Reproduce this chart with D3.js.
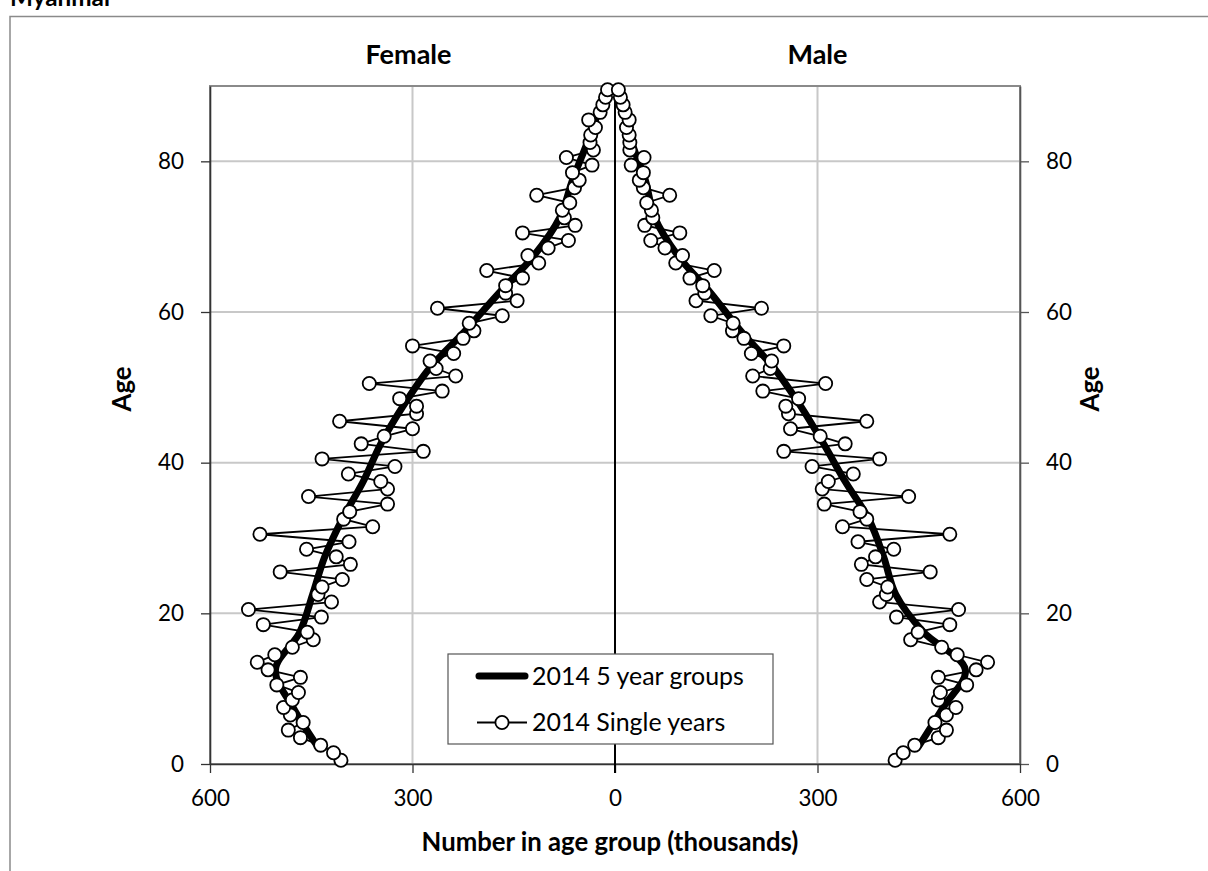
<!DOCTYPE html>
<html><head><meta charset="utf-8">
<script src="https://cdn.jsdelivr.net/npm/d3@7"></script>
<style>
body{margin:0;background:#fff;}
svg{display:block;}
text{font-family:Lato,"Open Sans",sans-serif;fill:#000;}
</style>
</head><body>
<svg id="c" width="1208" height="871"></svg>
<script>
// ---- data ----
const ages = [0,1,2,3,4,5,6,7,8,9,10,11,12,13,14,15,16,17,18,19,20,21,22,23,24,25,26,27,28,29,30,31,32,33,34,35,36,37,38,39,40,41,42,43,44,45,46,47,48,49,50,51,52,53,54,55,56,57,58,59,60,61,62,63,64,65,66,67,68,69,70,71,72,73,74,75,76,77,78,79,80,81,82,83,84,85,86,87,88,89];
const femaleSingle = [406,417,436,466,484,462,481,491,478,469,501,466,514,530,504,478,447,456,521,435,543,420,440,434,404,496,392,413,457,394,526,359,402,393,337,454,337,347,395,326,434,284,376,342,300,408,294,294,319,256,364,236,265,274,239,300,225,209,216,167,263,145,162,162,137,190,113,129,99,69,137,59,75,78,67,116,60,53,63,34,72,32,37,36,29,39,22,18,14,11];
const maleSingle = [415,427,444,479,491,474,491,505,479,482,521,479,535,552,507,484,438,449,496,417,509,392,402,404,373,467,365,386,413,360,496,337,373,363,310,435,307,316,353,292,392,250,341,304,260,373,257,253,272,219,312,204,230,232,202,250,191,174,175,142,217,120,133,130,111,147,90,100,74,53,96,44,56,54,47,81,42,36,42,24,43,22,22,21,17,21,15,12,8,5];
const groupStarts = [0,5,10,15,20,25,30,35,40,45,50,55,60,65,70,75,80,85];
const femaleGroups = [442,477,503,467,448,430,404,373,347,314,275,222,172,120,82,63,41,21];
const maleGroups = [451,486,519,457,416,398,376,341,309,275,236,186,142,93,59,45,25,13];
const xTicksLeft = [600,300,0];
const xTicksRight = [300,600];
const yTicks = [0,20,40,60,80];
const seriesNames = ["2014 5 year groups","2014 Single years"];
const panelTitles = ["Female","Male"];
const chartTitle = "Myanmar";
const xTitle = "Number in age group (thousands)";
const yTitle = "Age";

// ---- layout ----
const svg = d3.select("#c");
const L = 210, R = 1020, T = 86, B = 764, M = 615;
const xF = d3.scaleLinear().domain([0,600]).range([M, L]);
const xM = d3.scaleLinear().domain([0,600]).range([M, R]);
const y = d3.scaleLinear().domain([0,90]).range([B, T]);

function fitFont(sel, target){
  const w = sel.node().getComputedTextLength();
  const fs = parseFloat(sel.attr("font-size"));
  const nf = fs*target/w;
  sel.attr("font-size", nf);
  return nf;
}

// outer chart frame
svg.append("rect").attr("x",10).attr("y",16.5).attr("width",1400).attr("height",1000)
  .attr("fill","none").attr("stroke","#8a8a8a").attr("stroke-width",1.5);

// chart title (cut off at top, as in the source)
const ct = svg.append("text").attr("x",10).attr("y",6).attr("font-weight","bold").attr("font-size",26).text(chartTitle);
fitFont(ct,103);

// gridlines
const g = svg.append("g");
g.selectAll("line.gv").data([xF(300), xM(300)]).join("line")
  .attr("x1",d=>d).attr("x2",d=>d).attr("y1",T).attr("y2",B)
  .attr("stroke","#c8c8c8").attr("stroke-width",2);
g.selectAll("line.gh").data(yTicks.filter(d=>d>0)).join("line")
  .attr("x1",L).attr("x2",R).attr("y1",d=>y(d)).attr("y2",d=>y(d))
  .attr("stroke","#c8c8c8").attr("stroke-width",2);

// plot border
svg.append("rect").attr("x",L).attr("y",T).attr("width",R-L).attr("height",B-T)
  .attr("fill","none").attr("stroke","#8a8a8a").attr("stroke-width",2);

// axes
function styleAxis(sel, col){
  sel.select(".domain").attr("stroke",col).attr("stroke-width",1.6);
  sel.selectAll(".tick line").attr("stroke",col).attr("stroke-width",1.3);
  sel.selectAll(".tick text").attr("font-size",23).attr("fill","#000");
}
const axL = svg.append("g").attr("transform",`translate(${L},0)`)
  .call(d3.axisLeft(y).tickValues(yTicks).tickSize(9).tickPadding(17).tickSizeOuter(0));
const axR = svg.append("g").attr("transform",`translate(${R},0)`)
  .call(d3.axisRight(y).tickValues(yTicks).tickSize(9).tickPadding(17).tickSizeOuter(0));
const axBF = svg.append("g").attr("transform",`translate(0,${B})`)
  .call(d3.axisBottom(xF).tickValues(xTicksLeft).tickSize(9).tickPadding(17).tickSizeOuter(0));
const axBM = svg.append("g").attr("transform",`translate(0,${B})`)
  .call(d3.axisBottom(xM).tickValues(xTicksRight).tickSize(9).tickPadding(17).tickSizeOuter(0));
[axL,axBF,axBM].forEach(a=>styleAxis(a,"#333"));
styleAxis(axR,"#555");
[axL,axR,axBF,axBM].forEach(a=>a.attr("font-family",null));
const ref = axBM.selectAll(".tick text").filter(d=>d===300);
const tfs = fitFont(ref,39);
svg.selectAll(".tick text").attr("font-size",tfs).style("font-family",'Lato,"Open Sans",sans-serif');

// zero line
svg.append("line").attr("x1",M).attr("x2",M).attr("y1",T).attr("y2",B+9)
  .attr("stroke","#000").attr("stroke-width",2);

// titles
const tF = svg.append("text").attr("x",(L+M)/2-4).attr("y",64).attr("text-anchor","middle")
  .attr("font-weight","bold").attr("font-size",26).text(panelTitles[0]);
const tfSize = fitFont(tF,86);
svg.append("text").attr("x",(M+R)/2).attr("y",64).attr("text-anchor","middle")
  .attr("font-weight","bold").attr("font-size",tfSize).text(panelTitles[1]);
const xt = svg.append("text").attr("x",610).attr("y",851).attr("text-anchor","middle")
  .attr("font-weight","bold").attr("font-size",26).text(xTitle);
const xtSize = fitFont(xt,377);
svg.append("text").attr("transform","translate(131,389) rotate(-90)").attr("text-anchor","middle")
  .attr("font-weight","bold").attr("font-size",xtSize).text(yTitle);
svg.append("text").attr("transform","translate(1099,389) rotate(-90)").attr("text-anchor","middle")
  .attr("font-weight","bold").attr("font-size",xtSize).text(yTitle);

// series data
const fSingle = ages.map((a,i)=>({a, v:femaleSingle[i]}));
const mSingle = ages.map((a,i)=>({a, v:maleSingle[i]}));
const fGroup = groupStarts.map((a,i)=>({a, v:femaleGroups[i]}));
const mGroup = groupStarts.map((a,i)=>({a, v:maleGroups[i]}));

const thick = (xs)=>d3.line().curve(d3.curveCatmullRom.alpha(0.5)).x(d=>xs(d.v)).y(d=>y(d.a+2.5));
const thin = (xs)=>d3.line().x(d=>xs(d.v)).y(d=>y(d.a+0.5));

const plotG = svg.append("g");
[[fGroup,xF],[mGroup,xM]].forEach(([d,xs])=>{
  plotG.append("path").datum(d).attr("d",thick(xs)).attr("fill","none")
    .attr("stroke","#000").attr("stroke-width",7).attr("stroke-linecap","round").attr("stroke-linejoin","round");
});
[[fSingle,xF],[mSingle,xM]].forEach(([d,xs])=>{
  plotG.append("path").datum(d).attr("d",thin(xs)).attr("fill","none")
    .attr("stroke","#000").attr("stroke-width",1.8);
  plotG.append("g").selectAll("circle").data(d).join("circle")
    .attr("cx",p=>xs(p.v)).attr("cy",p=>y(p.a+0.5)).attr("r",6.6)
    .attr("fill","#fff").attr("stroke","#000").attr("stroke-width",1.8);
});

// legend
const lg = svg.append("g");
lg.append("rect").attr("x",448).attr("y",654).attr("width",325).attr("height",90)
  .attr("fill","#fff").attr("stroke","#555").attr("stroke-width",1.2);
lg.append("line").attr("x1",479).attr("x2",525).attr("y1",676).attr("y2",676)
  .attr("stroke","#000").attr("stroke-width",7).attr("stroke-linecap","round");
lg.append("line").attr("x1",477).attr("x2",527).attr("y1",722.5).attr("y2",722.5)
  .attr("stroke","#000").attr("stroke-width",1.8);
lg.append("circle").attr("cx",502).attr("cy",722.5).attr("r",6.6)
  .attr("fill","#fff").attr("stroke","#000").attr("stroke-width",1.8);
const l1 = lg.append("text").attr("x",532).attr("y",676).attr("dy","0.35em").attr("font-size",24).text(seriesNames[0]);
const lfs = fitFont(l1,212);
lg.append("text").attr("x",532).attr("y",722.5).attr("dy","0.35em").attr("font-size",lfs).text(seriesNames[1]);
</script>
</body></html>
